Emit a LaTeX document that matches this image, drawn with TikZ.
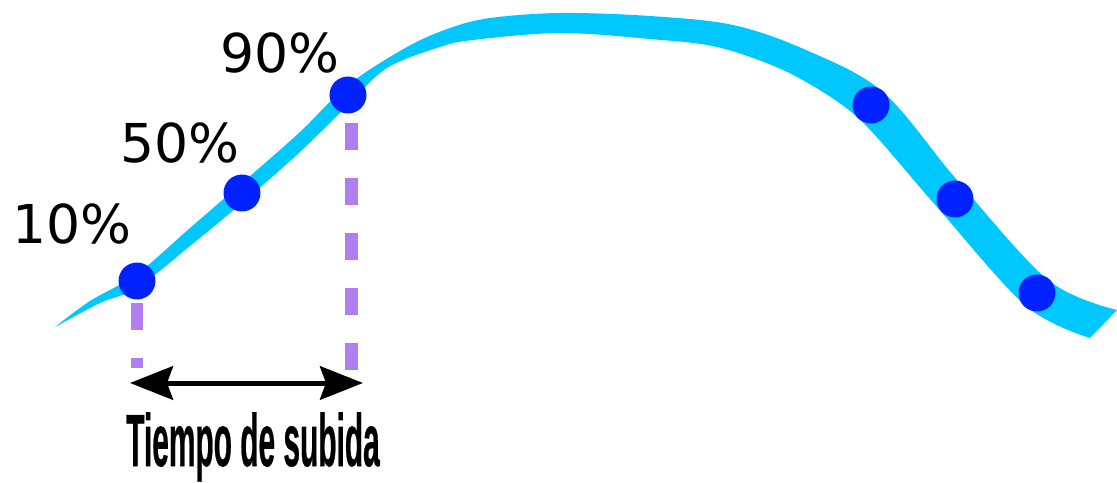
\documentclass[tikz,border=0pt]{standalone}
\usepackage{fontspec}
\usetikzlibrary{arrows.meta}
\newfontfamily\pctfont{DejaVu Sans}
\newfontfamily\tfont[FakeBold=0.8]{Liberation Sans Bold}
\definecolor{curvecol}{RGB}{0,200,255}
\definecolor{dotcol}{RGB}{0,34,255}
\definecolor{dashcol}{RGB}{176,126,238}
\tikzset{
  dotnode/.style={circle,fill=dotcol,minimum size=0.74cm,inner sep=0pt},
  pctlabel/.style={anchor=base,inner sep=0pt,font=\pctfont\fontsize{30.5pt}{36pt}\selectfont},
  markline/.style={draw=dashcol,line width=0.26cm,dash pattern=on 0.54cm off 0.56cm},
  timearrow/.style={draw=black,line width=0.1cm,{Stealth[length=0.86cm,width=0.67cm,inset=0.12cm]}-{Stealth[length=0.86cm,width=0.67cm,inset=0.12cm]}}
}
\begin{document}
\begin{tikzpicture}[x=0.02cm,y=-0.02cm]
\useasboundingbox (0,0) rectangle (1117,483);
% curve band
\fill[curvecol] plot[smooth,tension=0.55] coordinates {(55,327) (90,301) (137,274) (190,228) (242,183) (300,132) (348,85) (407,47) (450,28) (490,18) (560,13) (650,16) (733,25) (806,50) (883,92) (957,180) (1048,280) (1117,310)}
  -- plot[smooth,tension=0.55] coordinates {(1090,338) (1026,306) (937,207) (873,133) (838,102) (783,70) (717,47) (650,39) (560,33) (473,40) (440,47) (387,68) (348,105) (300,152) (242,203) (190,246) (137,288) (100,303) (55,327)} -- cycle;
% dots
\node[dotnode] (d10) at (137,281) {};
\node[dotnode] (d50) at (242,193) {};
\node[dotnode] (d90) at (348,95) {};
\node[dotnode] (e1) at (871,105) {};
\node[dotnode] (e2) at (955,199) {};
\node[dotnode] (e3) at (1037,293) {};
% labels
\node[pctlabel] (l10) at (72,244) {10\%};
\node[pctlabel] (l50) at (180,163) {50\%};
\node[pctlabel] (l90) at (280,73) {90\%};
% dashed markers
\coordinate (m10a) at (137,303);
\coordinate (m10b) at (137,368);
\coordinate (m90a) at (351,123);
\coordinate (m90b) at (351,370);
\draw[markline] (m10a) -- (m10b);
\draw[markline] (m90a) -- (m90b);
% arrow
\coordinate (a1) at (130,383);
\coordinate (a2) at (363,383);
\draw[timearrow] (a1) -- (a2);
% caption
\node[anchor=base,inner sep=0pt] (cap) at (253,466) {\scalebox{0.405}[1]{\tfont\fontsize{42pt}{48pt}\selectfont Tiempo de subida}};
\end{tikzpicture}
\end{document}
